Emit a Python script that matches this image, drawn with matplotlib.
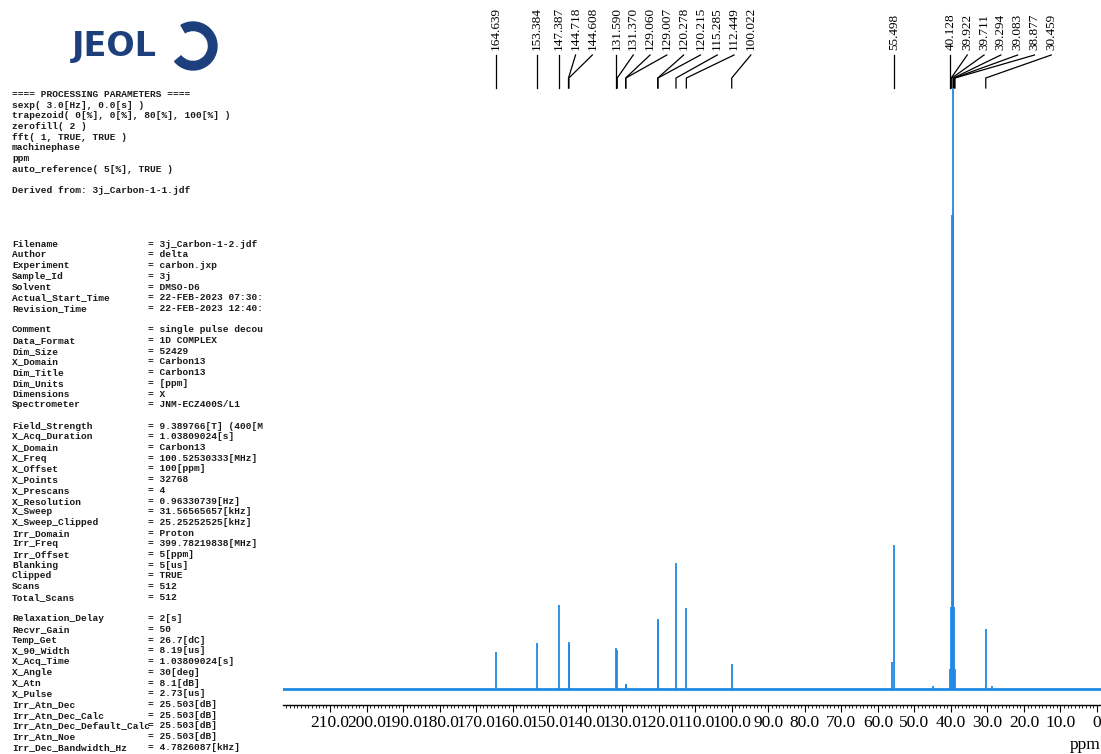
import matplotlib
matplotlib.use('Agg')
import matplotlib.pyplot as plt
from matplotlib.patches import Wedge
from matplotlib.ticker import FixedLocator, FixedFormatter, MultipleLocator

W, H = 1101, 754

# peak list (ppm, height above baseline)
peak_ppm = [164.639, 153.384, 147.387, 144.718, 144.608, 131.590, 131.370,
            129.060, 129.007, 120.278, 120.215, 115.285, 112.449, 100.022,
            56.2, 55.498, 44.9, 40.128, 39.922, 39.711, 39.500, 39.294,
            39.083, 38.877, 30.459, 28.7]
peak_height = [37, 46, 84, 47, 45, 41, 39,
               5, 5, 70, 68, 126, 81, 25,
               27, 144, 3, 20, 82, 474, 603, 474,
               82, 20, 60, 3]

labelled_ppm = [164.639, 153.384, 147.387, 144.718, 144.608, 131.590, 131.370,
                129.060, 129.007, 120.278, 120.215, 115.285, 112.449, 100.022,
                55.498, 40.128, 39.922, 39.711, 39.294, 39.083, 38.877, 30.459]

tick_ppm = list(range(0, 220, 10))
tick_labels = ['0'] + ['%.1f' % v for v in range(10, 220, 10)]

processing = [
    '==== PROCESSING PARAMETERS ====',
    'sexp( 3.0[Hz], 0.0[s] )',
    'trapezoid( 0[%], 0[%], 80[%], 100[%] )',
    'zerofill( 2 )',
    'fft( 1, TRUE, TRUE )',
    'machinephase',
    'ppm',
    'auto_reference( 5[%], TRUE )',
    '',
    'Derived from: 3j_Carbon-1-1.jdf',
    '', '', '', '',
]

param_names = [
    'Filename', 'Author', 'Experiment', 'Sample_Id', 'Solvent',
    'Actual_Start_Time', 'Revision_Time', '',
    'Comment', 'Data_Format', 'Dim_Size', 'X_Domain', 'Dim_Title',
    'Dim_Units', 'Dimensions', 'Spectrometer', '',
    'Field_Strength', 'X_Acq_Duration', 'X_Domain', 'X_Freq', 'X_Offset',
    'X_Points', 'X_Prescans', 'X_Resolution', 'X_Sweep', 'X_Sweep_Clipped',
    'Irr_Domain', 'Irr_Freq', 'Irr_Offset', 'Blanking', 'Clipped', 'Scans',
    'Total_Scans', '',
    'Relaxation_Delay', 'Recvr_Gain', 'Temp_Get', 'X_90_Width', 'X_Acq_Time',
    'X_Angle', 'X_Atn', 'X_Pulse', 'Irr_Atn_Dec', 'Irr_Atn_Dec_Calc',
    'Irr_Atn_Dec_Default_Calc', 'Irr_Atn_Noe', 'Irr_Dec_Bandwidth_Hz',
]
param_values = [
    '3j_Carbon-1-2.jdf', 'delta', 'carbon.jxp', '3j', 'DMSO-D6',
    '22-FEB-2023 07:30:', '22-FEB-2023 12:40:', '',
    'single pulse decou', '1D COMPLEX', '52429', 'Carbon13', 'Carbon13',
    '[ppm]', 'X', 'JNM-ECZ400S/L1', '',
    '9.389766[T] (400[M', '1.03809024[s]', 'Carbon13', '100.52530333[MHz]',
    '100[ppm]', '32768', '4', '0.96330739[Hz]', '31.56565657[kHz]',
    '25.25252525[kHz]', 'Proton', '399.78219838[MHz]', '5[ppm]', '5[us]',
    'TRUE', '512', '512', '',
    '2[s]', '50', '26.7[dC]', '8.19[us]', '1.03809024[s]', '30[deg]',
    '8.1[dB]', '2.73[us]', '25.503[dB]', '25.503[dB]', '25.503[dB]',
    '25.503[dB]', '4.7826087[kHz]',
]

blue = '#1f8ae6'
navy = '#1d3f7c'
ink = '#1a1a1a'

fig = plt.figure(figsize=(W / 100, H / 100), dpi=100)

# overlay in pixel units for the text, logo and peak labels
ov = fig.add_axes([0, 0, 1, 1])
ov.set_xlim(0, W)
ov.set_ylim(H, 0)
ov.axis('off')

# spectrum
ax = fig.add_axes([283 / W, (H - 705) / H, (W - 283) / W, (705 - 88) / H])
ax.patch.set_alpha(0)
ax.set_xlim(222.9, -1.1)
ax.set_ylim(-16, 601)
ax.axhline(0, color=blue, lw=2.0)
ax.vlines(peak_ppm, 0, peak_height, color=blue, lw=1.3)
for s in ['top', 'left', 'right']:
    ax.spines[s].set_visible(False)
ax.spines['bottom'].set_linewidth(1.0)
ax.set_yticks([])
ax.xaxis.set_major_locator(FixedLocator(tick_ppm))
ax.xaxis.set_major_formatter(FixedFormatter(tick_labels))
ax.xaxis.set_minor_locator(MultipleLocator(1))
ax.tick_params(axis='x', which='major', length=5, width=0.8, pad=2,
               labelsize=12.5, direction='out')
ax.tick_params(axis='x', which='minor', length=2.5, width=0.6, direction='out')
for t in ax.get_xticklabels():
    t.set_family('Liberation Serif')
ov.text(1085, 745, 'ppm', ha='center', va='center', fontsize=12.5,
        family='Liberation Serif')

# peak labels with leader lines
px = [ax.transData.transform((p, 0))[0] for p in labelled_ppm]
lx = []
for x in px:
    lx.append(x if not lx else max(x, lx[-1] + 16.8))
for v, p, l in zip(labelled_ppm, px, lx):
    ov.plot([l, p, p], [55, 78, 88], color='k', lw=0.9)
    ov.text(l, 50, '%.3f' % v, rotation=90, ha='center', va='bottom',
            fontsize=9.5, family='Liberation Serif')

# logo
ov.text(72, 56, 'JEOL', fontsize=24, fontweight='bold', color=navy,
        ha='left', va='baseline', family='DejaVu Sans')
ov.add_patch(Wedge((193, 46), 24, -120, 140, width=8.5, color=navy))

# parameter listing
y = 94
for line in processing:
    if line:
        ov.text(12, y + 3, line, va='baseline', fontsize=6.8,
                fontweight='bold', family='Liberation Mono', color=ink)
    y += 10.7
for name, val in zip(param_names, param_values):
    if name:
        ov.text(12, y + 3, name, va='baseline', fontsize=6.8,
                fontweight='bold', family='Liberation Mono', color=ink)
        ov.text(148, y + 3, '= ' + val, va='baseline', fontsize=6.8,
                fontweight='bold', family='Liberation Mono', color=ink)
    y += 10.7

fig.savefig('out.png', dpi=100)
